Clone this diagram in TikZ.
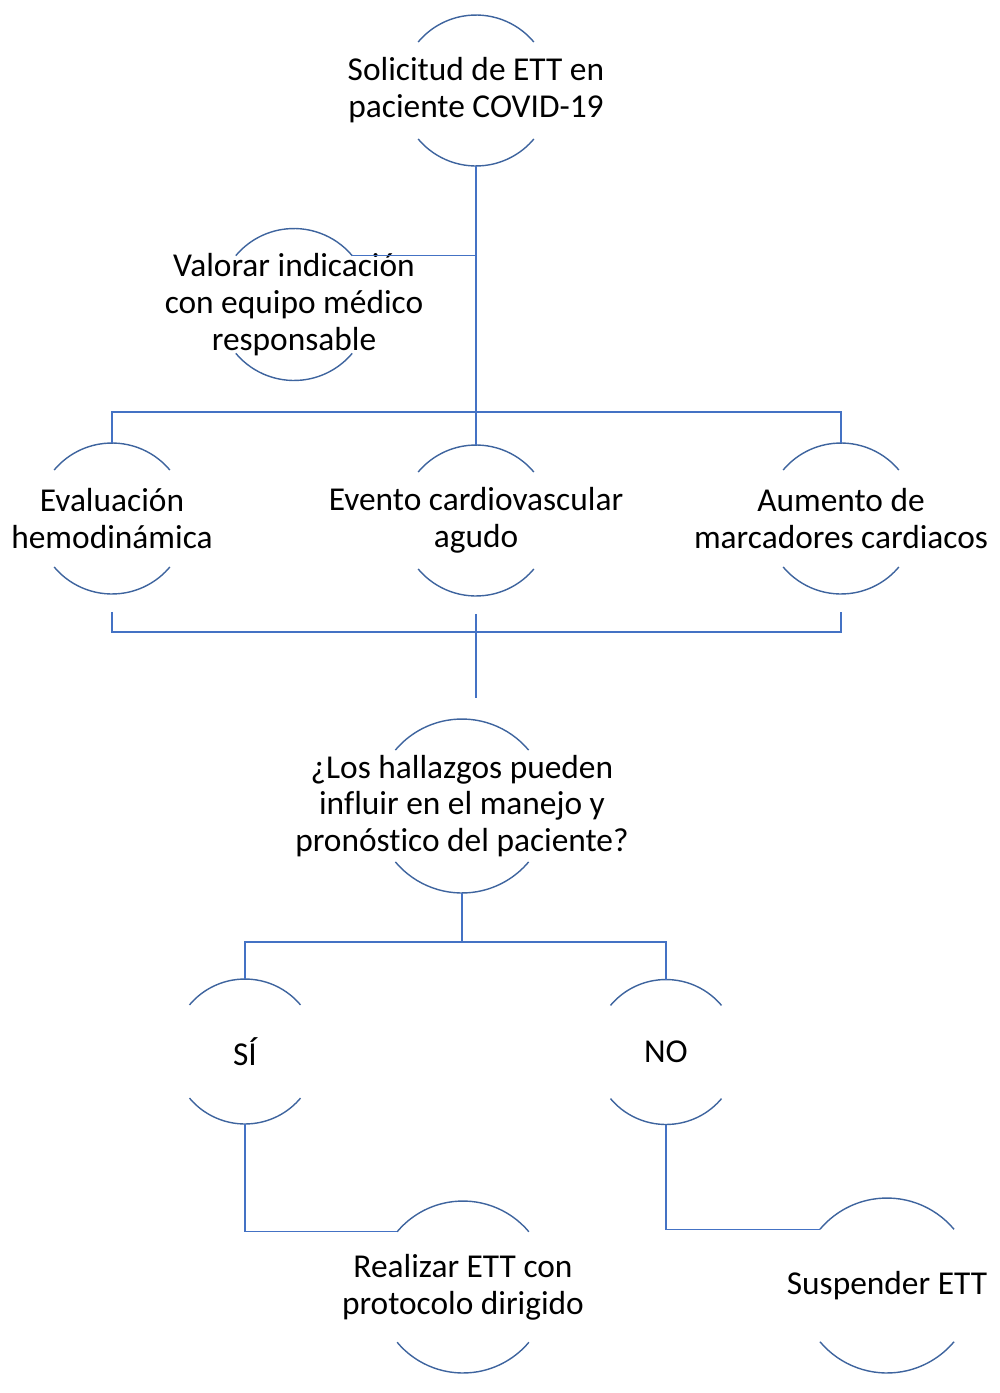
\documentclass[tikz,border=0pt]{standalone}
\usepackage{fontspec}
\setmainfont{Carlito}[Ligatures=NoCommon]
\usetikzlibrary{positioning, calc}
\definecolor{linkblue}{RGB}{68,114,196}
\definecolor{arcblue}{RGB}{62,100,158}

\begin{document}
\begin{tikzpicture}[x=0.02cm, y=-0.02cm,
    ring/.style={circle, inner sep=0pt, outer sep=0pt, minimum size=2*#1},
    lbl/.style={font=\fontsize{19}{21}\selectfont, align=center, text=black},
    link/.style={draw=linkblue, line width=0.8pt},
    rim/.style={draw=arcblue, line width=0.8pt},
    ]
    \useasboundingbox (0,0) rectangle (1000,1393);

    % Nodes
    \node[ring=1.51cm, label={[lbl]center:{Solicitud de ETT en\\paciente COVID-19}}] (sol) at (476,90.5) {};
    \node[ring=1.52cm, label={[lbl]center:{Valorar indicación\\con equipo médico\\responsable}}] (val) at (294,304.5) {};
    \node[ring=1.51cm, label={[lbl]center:{Evaluación\\hemodinámica}}] (eval) at (112,518.5) {};
    \node[ring=1.51cm, label={[lbl]center:{Evento cardiovascular\\agudo}}] (even) at (476,520.5) {};
    \node[ring=1.51cm, label={[lbl]center:{Aumento de\\marcadores cardiacos}}] (aum) at (841,518.5) {};
    \node[ring=1.74cm, label={[lbl]center:{¿Los hallazgos pueden\\influir en el manejo y\\pronóstico del paciente?}}] (preg) at (462,806) {};
    \node[ring=1.45cm, label={[lbl]center:{SÍ}}] (si) at (245,1051.5) {};
    \node[ring=1.45cm, label={[lbl]center:{NO}}] (no) at (666,1052) {};
    \node[ring=1.72cm, label={[lbl]center:{Realizar ETT con\\protocolo dirigido}}] (real) at (463,1287) {};
    \node[ring=1.75cm, label={[lbl]center:{Suspender ETT}}] (susp) at (887,1285.5) {};

    % Arcs
    \foreach \n/\r in {sol/1.51cm, val/1.52cm, eval/1.51cm, even/1.51cm, aum/1.51cm,
                       preg/1.74cm, si/1.45cm, no/1.45cm, real/1.72cm, susp/1.75cm}{
      \draw[rim] (\n.40) arc[start angle=40, end angle=140, radius=\r];
      \draw[rim] (\n.220) arc[start angle=220, end angle=320, radius=\r];
    }

    % Lines
    \draw[link] (sol.south) -- (even.north);
    \draw[link] (val.40) -- (val.40 -| sol.south);
    \draw[link] (eval.north) -- ++(0,-31) -| (aum.north);
    \draw[link] ([yshift=-0.36cm]eval.south) -- ++(0,20) -| ([yshift=-0.36cm]aum.south);
    \draw[link] ([yshift=-0.36cm]even.south) -- ++(0,84);
    \draw[link] (preg.south) -- ++(0,49);
    \draw[link] (si.north) -- ++(0,-37) -| (no.north);
    \draw[link] (si.south) |- (real.140);
    \draw[link] (no.south) |- (susp.140);
\end{tikzpicture}
\end{document}
